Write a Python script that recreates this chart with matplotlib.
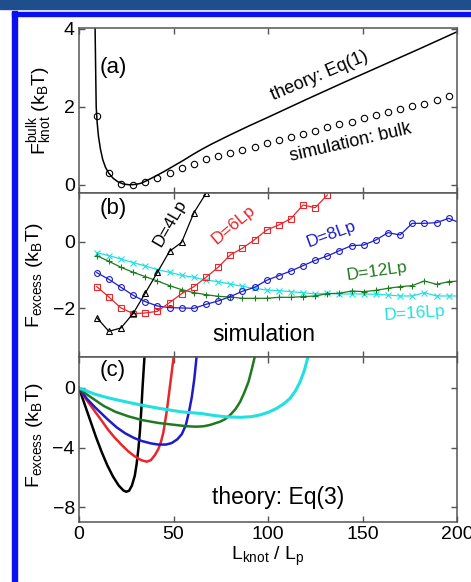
import matplotlib
matplotlib.use("Agg")
import matplotlib.pyplot as plt
from matplotlib.patches import Rectangle

plt.rcParams["font.family"] = ["Liberation Sans", "DejaVu Sans"]
plt.rcParams["mathtext.fontset"] = "custom"
plt.rcParams["mathtext.rm"] = "Liberation Sans"
plt.rcParams["mathtext.it"] = "Liberation Sans"
plt.rcParams["mathtext.default"] = "regular"

# knot length grid of the simulation (L_knot / L_p)
L_sim = [9.4, 15.8, 22.2, 28.7, 35.1, 41.5, 47.9, 54.3, 60.8, 67.2, 73.6,
         80.0, 86.4, 92.9, 99.3, 105.7, 112.1, 118.5, 125.0, 131.4, 137.8,
         144.2, 150.6, 157.1, 163.5, 169.9, 176.3, 182.7, 189.2, 195.6, 202.0]

# (a) bulk free energy
bulk_sim = [1.76, 0.30, 0.03, 0.00, 0.06, 0.18, 0.30, 0.44, 0.54, 0.66,
            0.74, 0.82, 0.90, 0.98, 1.06, 1.14, 1.22, 1.30, 1.38, 1.47,
            1.55, 1.62, 1.70, 1.78, 1.86, 1.94, 2.01, 2.08, 2.17, 2.27]
L_eq1 = [8.5, 8.8, 9.1, 9.6, 10.3, 11.4, 12.6, 14.0, 15.7, 18.0, 20.5, 23.5,
         26.7, 30.0, 32.8, 36.0, 40.0, 45.0, 50.0, 55.0, 60.0, 65.0, 70.0,
         80.0, 90.0, 100.0, 120.0, 140.0, 160.0, 180.0, 200.0]
F_eq1 = [4.05, 3.0, 2.0, 1.6, 1.24, 0.90, 0.64, 0.45, 0.30, 0.17, 0.08, 0.02,
         0.0, 0.01, 0.04, 0.11, 0.21, 0.34, 0.48, 0.62, 0.77, 0.91, 1.04,
         1.28, 1.51, 1.73, 2.18, 2.62, 3.05, 3.48, 3.92]

# (b) excess free energy from simulation
D4_sim = [-2.28, -2.69, -2.59, -2.15, -1.54, -0.92, -0.29, -0.02, 0.87, 1.45]
D6_sim = [-1.35, -1.66, -1.99, -2.16, -2.14, -2.09, -1.83, -1.56, -1.35, -1.07,
          -0.77, -0.40, -0.20, 0.06, 0.35, 0.50, 0.69, 1.10, 1.02, 1.40]
D8_sim = [-0.93, -1.13, -1.37, -1.61, -1.80, -1.93, -1.98, -1.99, -2.00, -1.88,
          -1.78, -1.65, -1.49, -1.37, -1.16, -1.02, -0.88, -0.72, -0.56, -0.43,
          -0.27, -0.12, -0.10, 0.05, 0.27, 0.20, 0.55, 0.55, 0.57, 0.70, 0.55]
D12_sim = [-0.42, -0.59, -0.77, -0.92, -1.05, -1.18, -1.32, -1.44, -1.53, -1.59,
           -1.64, -1.66, -1.70, -1.70, -1.70, -1.67, -1.67, -1.65, -1.63, -1.56,
           -1.55, -1.48, -1.50, -1.46, -1.40, -1.35, -1.32, -1.18, -1.28, -1.20, -1.18]
D16_sim = [-0.33, -0.42, -0.52, -0.63, -0.73, -0.84, -0.92, -1.01, -1.07, -1.15,
           -1.20, -1.27, -1.34, -1.40, -1.45, -1.47, -1.50, -1.53, -1.57, -1.55,
           -1.57, -1.57, -1.57, -1.58, -1.60, -1.63, -1.63, -1.53, -1.63, -1.63, -1.63]

# (c) theory, Eq(3)
L_D4 = [0, 3, 6, 9, 12, 15, 18, 21, 23.5, 25, 26.5, 28, 29.5, 30.5, 31.5, 32.3,
        33, 33.6, 34.2, 34.7]
F_D4 = [0, -1.1, -2.2, -3.3, -4.3, -5.2, -5.95, -6.55, -6.88, -6.97, -6.9,
        -6.55, -5.9, -5.1, -4.0, -2.8, -1.4, 0.0, 1.2, 2.2]
L_D6 = [0, 4, 8.5, 12, 15.5, 19, 22.6, 26, 29.7, 33, 35.8, 38, 40.2, 42, 43.4,
        44.6, 45.5, 46.5, 47.3, 48.2, 49.1, 50.2]
F_D6 = [0, -0.8, -1.59, -2.2, -2.82, -3.35, -3.83, -4.25, -4.61, -4.85, -4.95,
        -4.85, -4.5, -4.1, -3.6, -3.0, -2.3, -1.5, -0.7, 0.2, 1.1, 2.2]
L_D8 = [0, 4, 8.5, 15.5, 20, 24.4, 29, 33.2, 38, 42, 46, 49, 52, 54.4, 56.5,
        58.2, 59.7, 61.0, 62.3]
F_D8 = [0, -0.7, -1.3, -2.15, -2.65, -3.04, -3.35, -3.56, -3.72, -3.8, -3.8,
        -3.7, -3.45, -3.1, -2.5, -1.6, -0.6, 0.6, 2.2]
L_D12 = [0, 4, 8.5, 13, 19.1, 26, 33.2, 42, 50.8, 57, 62, 66, 69.4, 74.7,
         77.5, 80, 82.8, 85.3, 87.5, 89.7, 91.5, 93.2]
F_D12 = [0, -0.42, -0.81, -1.2, -1.59, -1.9, -2.15, -2.35, -2.48, -2.57, -2.6,
         -2.57, -2.48, -2.26, -2.08, -1.81, -1.42, -0.92, -0.3, 0.42, 1.3, 2.2]
L_D16 = [0, 8.5, 16, 24.4, 33, 42, 54, 65, 72, 78.2, 85.3, 91, 95.8, 100.5,
         104.7, 108.5, 111.7, 114.5, 117, 119.3, 121.4]
F_D16 = [0, -0.42, -0.68, -0.92, -1.15, -1.36, -1.6, -1.72, -1.86, -1.94,
         -1.97, -1.93, -1.81, -1.62, -1.36, -1.05, -0.69, -0.2, 0.42, 1.2, 2.2]

c_red = "#e8262b"
c_blue = "#1c1cc8"
c_green = "#1e7a1e"
c_cyan = "#22e0e0"
spine_col = "#555555"

fig = plt.figure(figsize=(4.71, 5.82), dpi=100)

# journal frame
fig.patches.append(Rectangle((0, 1 - 9 / 582), 1, 9 / 582, transform=fig.transFigure,
                             color="#1f4e8c", zorder=0))
fig.patches.append(Rectangle((12 / 471, 0), 4.5 / 471, 1 - 11 / 582, transform=fig.transFigure,
                             color="#0a10f0", zorder=0))
fig.patches.append(Rectangle((12 / 471, 1 - 16 / 582), 1, 4.5 / 582, transform=fig.transFigure,
                             color="#0a10f0", zorder=0))

left, width = 79 / 471, 378 / 471
ax_a = fig.add_axes([left, 1 - 193 / 582, width, 165.5 / 582])
ax_b = fig.add_axes([left, 1 - 357.3 / 582, width, 164.3 / 582])
ax_c = fig.add_axes([left, 1 - 522 / 582, width, 164.7 / 582])

for ax in (ax_a, ax_b, ax_c):
    ax.set_xlim(0, 200)
    ax.set_xticks([0, 50, 100, 150, 200])
    ax.tick_params(direction="in", length=4, width=1, color=spine_col,
                   top=True, right=True, labelsize=14, pad=3)
    for s in ax.spines.values():
        s.set_color(spine_col)
        s.set_linewidth(1.1)
ax_a.tick_params(labelbottom=False)
ax_b.tick_params(labelbottom=False)

# (a)
ax_a.plot(L_eq1, F_eq1, color="black", lw=1.1)
ax_a.plot(L_sim[:30], bulk_sim, ls="none", marker="o", ms=4.6, mfc="none",
          mec="black", mew=0.8)
ax_a.set_ylim(-0.21, 4.03)
ax_a.set_yticks([0, 2, 4])
ax_a.text(11, 3.0, "(a)", fontsize=16, va="center")
ax_a.text(127.5, 2.78, "theory: Eq(1)", fontsize=13, rotation=23,
          ha="center", va="center")
ax_a.text(143.7, 1.08, "simulation: bulk", fontsize=13, rotation=13,
          ha="center", va="center")
ax_a.set_ylabel(r"$F_{knot}^{bulk}$ (k$_B$T)", fontsize=14)
ax_a.yaxis.set_label_coords(-0.066, 0.5)

# (b)
mk = dict(ms=4.2, mfc="none", mew=0.8, lw=0.9)
ax_b.plot(L_sim[:len(D16_sim)], D16_sim, color=c_cyan, marker="x", **mk)
ax_b.plot(L_sim[:len(D12_sim)], D12_sim, color=c_green, marker="+", **mk)
ax_b.plot(L_sim[:len(D8_sim)], D8_sim, color=c_blue, marker="o", **mk)
ax_b.plot(L_sim[:len(D6_sim)], D6_sim, color=c_red, marker="s", **mk)
ax_b.plot(L_sim[:len(D4_sim)], D4_sim, color="black", marker="^", **mk)
ax_b.set_ylim(-3.47, 1.46)
ax_b.set_yticks([-2, 0])
ax_b.text(11, 1.0, "(b)", fontsize=16, va="center")
ax_b.text(48.0, 0.55, "D=4Lp", fontsize=12.5, rotation=60, color="black",
          ha="center", va="center")
ax_b.text(81.7, 0.5, "D=6Lp", fontsize=12.5, rotation=40, color=c_red,
          ha="center", va="center")
ax_b.text(133.5, 0.23, "D=8Lp", fontsize=12.5, rotation=20, color=c_blue,
          ha="center", va="center")
ax_b.text(157.6, -0.9, "D=12Lp", fontsize=12.5, rotation=8, color=c_green,
          ha="center", va="center")
ax_b.text(177.5, -2.15, "D=16Lp", fontsize=12.5, rotation=4, color=c_cyan,
          ha="center", va="center")
ax_b.text(97.6, -2.8, "simulation", fontsize=16.5, ha="center", va="center")
ax_b.set_ylabel(r"$F_{excess}$ (k$_B$T)", fontsize=14)
ax_b.yaxis.set_label_coords(-0.09, 0.5)

# (c)
ax_c.plot(L_D4, F_D4, color="black", lw=1.8)
ax_c.plot(L_D6, F_D6, color=c_red, lw=1.8)
ax_c.plot(L_D8, F_D8, color=c_blue, lw=1.8)
ax_c.plot(L_D12, F_D12, color=c_green, lw=1.8)
ax_c.plot(L_D16, F_D16, color=c_cyan, lw=2.2)
ax_c.set_ylim(-9, 2.06)
ax_c.set_yticks([-8, -4, 0])
ax_c.text(11, 1.2, "(c)", fontsize=16, va="center")
ax_c.text(105.5, -7.35, "theory: Eq(3)", fontsize=16.5, ha="center", va="center")
ax_c.set_ylabel(r"$F_{excess}$ (k$_B$T)", fontsize=14)
ax_c.yaxis.set_label_coords(-0.09, 0.53)
ax_c.set_xlabel(r"$L_{knot}$ / $L_p$", fontsize=14, labelpad=1)

fig.savefig("out.png", dpi=100)
